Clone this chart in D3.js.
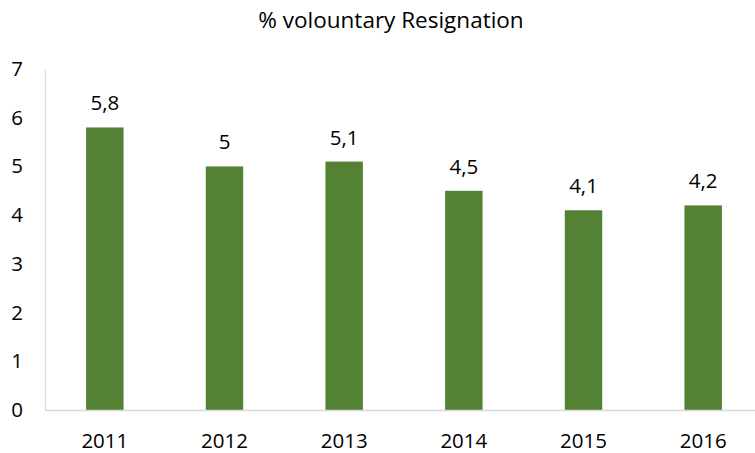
<!DOCTYPE html>
<html>
<head>
<meta charset="utf-8">
<script src="https://cdn.jsdelivr.net/npm/d3@7"></script>
<style>
  body { margin: 0; background: #fff; }
  text { font-family: "Open Sans", "Noto Sans", sans-serif; fill: #000; }
</style>
</head>
<body>
<div id="chart"></div>
<script>
const years = ['2011', '2012', '2013', '2014', '2015', '2016']
const values = [5.8, 5.0, 5.1, 4.5, 4.1, 4.2]
const yTicks = [0, 1, 2, 3, 4, 5, 6, 7]
const title = '% volountary Resignation'

const width = 755, height = 453
const margin = { left: 45, right: -8, top: 69, bottom: 43 }
const fontSize = 20.5

const svg = d3.select('#chart').append('svg')
    .attr('width', width)
    .attr('height', height)

const x = d3.scaleBand()
    .domain(years)
    .range([margin.left, width - margin.right])
    .paddingInner(0.687)
    .paddingOuter(0.3435)

const y = d3.scaleLinear()
    .domain([0, 7])
    .range([height - margin.bottom, margin.top])

const fmt = v => String(v).replace('.', ',')

// title
svg.append('text')
    .attr('x', 391)
    .attr('y', 28)
    .attr('text-anchor', 'middle')
    .attr('font-size', 22.5)
    .text(title)

// bars
svg.append('g')
  .selectAll('rect')
  .data(values)
  .enter().append('rect')
    .attr('x', (d, i) => x(years[i]))
    .attr('y', d => y(d))
    .attr('width', x.bandwidth())
    .attr('height', d => y(0) - y(d))
    .attr('fill', '#548235')

// value labels
svg.append('g')
  .selectAll('text')
  .data(values)
  .enter().append('text')
    .attr('x', (d, i) => x(years[i]) + x.bandwidth() / 2)
    .attr('y', d => y(d) - 17)
    .attr('text-anchor', 'middle')
    .attr('font-size', fontSize)
    .text(d => fmt(d))

// y axis
const yAxis = svg.append('g')
    .attr('transform', 'translate(' + margin.left + ',0)')
    .call(d3.axisLeft(y).tickValues(yTicks).tickFormat(d3.format('d')).tickSize(0).tickPadding(22))
yAxis.select('.domain').attr('stroke', '#d9d9d9').attr('stroke-width', 1.3)
yAxis.selectAll('text')
    .attr('font-size', fontSize)
    .attr('font-family', '"Open Sans", sans-serif')
    .attr('fill', '#000')

// x axis
const xAxis = svg.append('g')
    .attr('transform', 'translate(0,' + y(0) + ')')
    .call(d3.axisBottom(x).tickSize(0))
xAxis.select('.domain').attr('stroke', '#d9d9d9').attr('stroke-width', 1.3)
xAxis.selectAll('text')
    .attr('y', 38)
    .attr('dy', 0)
    .attr('font-size', fontSize)
    .attr('font-family', '"Open Sans", sans-serif')
    .attr('fill', '#000')
</script>
</body>
</html>
